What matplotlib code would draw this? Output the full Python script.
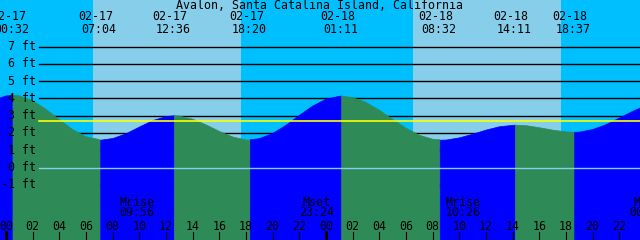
import numpy as np
import matplotlib
matplotlib.use("Agg")
import matplotlib.pyplot as plt
import matplotlib.transforms as mtransforms

# hours counted from 02-17 00:00
tide_hours = [-1, 0, 0.53, 1, 2, 3, 4, 5, 6, 7, 7.07,
              8, 9, 10, 11, 12, 12.60,
              13, 14, 15, 16, 17, 18, 18.33,
              19, 20, 21, 22, 23, 24, 25, 25.18,
              26, 27, 28, 29, 30, 31, 32, 32.53,
              33, 34, 35, 36, 37, 38, 38.18,
              39, 40, 41, 42, 42.62,
              43, 44, 45, 46, 47, 48]
tide_ft = [3.87, 4.14, 4.18, 4.15, 3.87, 3.37, 2.77, 2.20, 1.78, 1.62, 1.61,
           1.71, 1.99, 2.38, 2.75, 2.98, 3.02,
           3.00, 2.82, 2.49, 2.11, 1.79, 1.62, 1.61,
           1.67, 1.96, 2.44, 3.01, 3.55, 3.95, 4.12, 4.13,
           4.05, 3.77, 3.32, 2.79, 2.28, 1.87, 1.64, 1.61,
           1.62, 1.75, 1.96, 2.20, 2.39, 2.47, 2.48,
           2.45, 2.33, 2.19, 2.09, 2.07,
           2.08, 2.23, 2.52, 2.90, 3.29, 3.62]

# high / low tide labels on top
event_hours = [0.53, 7.07, 12.60, 18.33, 25.18, 32.53, 38.18, 42.62]
event_dates = ["02-17", "02-17", "02-17", "02-17", "02-18", "02-18", "02-18", "02-18"]
event_times = ["00:32", "07:04", "12:36", "18:20", "01:11", "08:32", "14:11", "18:37"]

# moon rise / set
moon_hours = [-1.53, 9.93, 23.40, 34.43, 48.2]
moon_names = ["Mset", "Mrise", "Mset", "Mrise", "Mset"]
moon_times = ["22:28", "09:56", "23:24", "10:26", "00:12"]

# daylight
sunrise_hours = [6.52, 30.50]
sunset_hours = [17.62, 41.62]

ft_levels = [7, 6, 5, 4, 3, 2, 1, 0, -1]
msl_ft = 2.71
hour_ticks = list(range(0, 49, 2))

title = "Avalon, Santa Catalina Island, California"

# colours
night_col = "#00BFFF"
day_col = "#87CEEB"
rise_col = "#0000FF"
fall_col = "#2E8B57"

plt.rcParams["font.family"] = "DejaVu Sans Mono"
fs = 8.4

fig = plt.figure(figsize=(6.4, 2.4), dpi=100)
ax = fig.add_axes([0, 0, 1, 1])
ax.set_facecolor(night_col)
ax.set_xlim(-0.445, 47.555)
ax.set_ylim(-4.19, 9.69)
ax.axis("off")
ax.add_patch(plt.Rectangle((0, 0), 1, 1, transform=ax.transAxes, color=night_col, zorder=0))

# day time
for sr, ss in zip(sunrise_hours, sunset_hours):
    ax.axvspan(sr, ss, color=day_col, lw=0, zorder=1)

# grid lines (under water)
x0 = 39 / 640
for lv in ft_levels:
    if lv != 0:
        ax.axhline(lv, xmin=x0, color="black", lw=1.0, zorder=2)

# water: blue while rising, green while falling
t = np.array(tide_hours)
h = np.array(tide_ft)
rising = np.diff(h) > 0
start = 0
for i in range(1, len(rising) + 1):
    if i == len(rising) or rising[i] != rising[start]:
        seg = slice(start, i + 1)
        c = rise_col if rising[start] else fall_col
        ax.fill_between(t[seg], h[seg], -10, facecolor=c, edgecolor=c, lw=0.5, zorder=3)
        start = i

# datum and mean sea level lines
ax.axhline(0, xmin=x0, color=day_col, lw=1.0, zorder=4)
ax.axhline(msl_ft, xmin=x0, color="#FFFF00", lw=1.2, zorder=4)

# y labels
ylab_tr = mtransforms.blended_transform_factory(ax.transAxes, ax.transData)
for lv in ft_levels:
    ax.text(36 / 640, lv, f"{lv} ft", transform=ylab_tr, ha="right", va="center",
            fontsize=fs, color="black", zorder=5)

# title
ax.text(0.5, 1 - 5.5 / 240, title, transform=ax.transAxes, ha="center", va="center",
        fontsize=fs, color="black", zorder=5)

# top labels
top_tr = mtransforms.blended_transform_factory(ax.transData, ax.transAxes)
date_tr = mtransforms.offset_copy(top_tr, fig=fig, x=-4, y=0, units="dots")
time_tr = mtransforms.offset_copy(top_tr, fig=fig, x=-1, y=0, units="dots")
for eh, ed, et in zip(event_hours, event_dates, event_times):
    ax.text(eh, 1 - 17 / 240, ed, transform=date_tr, ha="center", va="center",
            fontsize=fs, color="black", zorder=5)
    ax.text(eh, 1 - 29.5 / 240, et, transform=time_tr, ha="center", va="center",
            fontsize=fs, color="black", zorder=5)

# moon labels
moon_tr = mtransforms.offset_copy(top_tr, fig=fig, x=-1.5, y=0, units="dots")
for mh, mn, mt in zip(moon_hours, moon_names, moon_times):
    ax.text(mh, 1 - 202.5 / 240, mn, transform=moon_tr, ha="center", va="center",
            fontsize=fs, color="black", zorder=5)
    ax.text(mh, 1 - 212.5 / 240, mt, transform=moon_tr, ha="center", va="center",
            fontsize=fs, color="black", zorder=5)

# hour ticks at the bottom
for hh in hour_ticks:
    ax.text(hh, 1 - 226 / 240, f"{hh % 24:02d}", transform=top_tr, ha="center", va="center",
            fontsize=fs, color="black", zorder=5)
    lw = 2.2 if hh % 24 == 0 else 0.8
    ax.axvline(hh, ymin=0, ymax=8 / 240, color="black", lw=lw, zorder=5)

fig.savefig("out.png", dpi=100)
